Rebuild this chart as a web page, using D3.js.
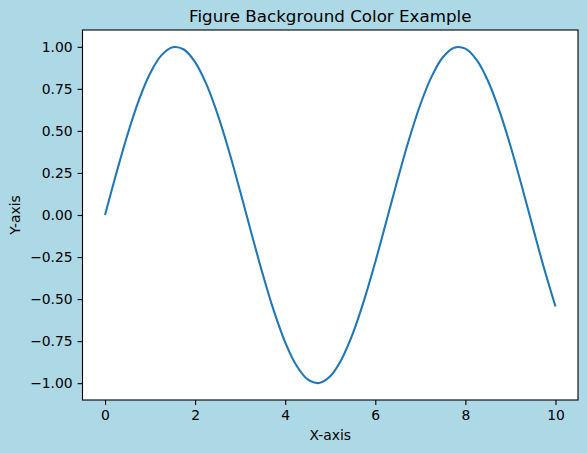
<!DOCTYPE html>
<html>
<head>
<meta charset="utf-8">
<script src="https://cdn.jsdelivr.net/npm/d3@7"></script>
<style>
	html, body { margin: 0; padding: 0; background: #add8e6; }
	svg { display: block; font-family: "DejaVu Sans", sans-serif; }
</style>
</head>
<body>
<svg id="plot" width="587" height="453" viewBox="0 0 587 453"></svg>
<script>

// values
const x_values = [0, 0.25, 0.5, 0.75, 1, 1.25, 1.5, 1.75, 2, 2.25, 2.5, 2.75, 3, 3.25, 3.5, 3.75,
	4, 4.25, 4.5, 4.75, 5, 5.25, 5.5, 5.75, 6, 6.25, 6.5, 6.75, 7, 7.25, 7.5, 7.75,
	8, 8.25, 8.5, 8.75, 9, 9.25, 9.5, 9.75, 10];
const y_values = [0.000, 0.247, 0.479, 0.682, 0.841, 0.949, 0.997, 0.984, 0.909, 0.778, 0.598, 0.382, 0.141, -0.108, -0.351, -0.572,
	-0.757, -0.895, -0.978, -0.999, -0.959, -0.859, -0.706, -0.508, -0.279, -0.033, 0.215, 0.450, 0.657, 0.823, 0.938, 0.995,
	0.989, 0.922, 0.798, 0.624, 0.412, 0.174, -0.075, -0.320, -0.544];
const x_ticks = [0, 2, 4, 6, 8, 10];
const y_ticks = [-1.00, -0.75, -0.50, -0.25, 0.00, 0.25, 0.50, 0.75, 1.00];

const title_text = "Figure Background Color Example";
const x_label = "X-axis";
const y_label = "Y-axis";

const svg = d3.select("#plot");
const plot = { left: 82.5, top: 30, right: 578, bottom: 400 };

svg.append("rect")
	.attr("width", 587).attr("height", 453)
	.style("fill", "#add8e6");

const x = d3.scaleLinear().domain([-0.5, 10.5]).range([plot.left, plot.right]);
const y = d3.scaleLinear().domain([-1.1, 1.1]).range([plot.bottom, plot.top]);

svg.append("rect")
	.attr("x", plot.left).attr("y", plot.top)
	.attr("width", plot.right - plot.left).attr("height", plot.bottom - plot.top)
	.style("fill", "white");

const points = x_values.map((v, i) => [v, y_values[i]]);
const line = d3.line()
	.x(d => x(d[0]))
	.y(d => y(d[1]))
	.curve(d3.curveCatmullRom);

svg.append("path")
	.datum(points)
	.attr("d", line)
	.style("fill", "none")
	.style("stroke", "#1f77b4")
	.style("stroke-width", 2.08);

// axes
const x_axis = d3.axisBottom(x).tickValues(x_ticks).tickFormat(d3.format("d"))
	.tickSizeInner(4.9).tickSizeOuter(0).tickPadding(4.9);
const y_axis = d3.axisLeft(y).tickValues(y_ticks).tickFormat(d => d3.format(".2f")(d).replace("-", "\u2212"))
	.tickSizeInner(4.9).tickSizeOuter(0).tickPadding(4.9);

const gx = svg.append("g").attr("transform", "translate(0," + plot.bottom + ")").call(x_axis);
const gy = svg.append("g").attr("transform", "translate(" + plot.left + ",0)").call(y_axis);

[gx, gy].forEach(g => {
	g.select(".domain").remove();
	g.selectAll("line").style("stroke", "black").style("stroke-width", 1.1);
	g.selectAll("text").style("font-size", "13.9px").style("fill", "black")
		.style("font-family", "'DejaVu Sans', sans-serif");
});

// frame
svg.append("rect")
	.attr("x", plot.left).attr("y", plot.top)
	.attr("width", plot.right - plot.left).attr("height", plot.bottom - plot.top)
	.style("fill", "none").style("stroke", "black").style("stroke-width", 1.1);

svg.append("text")
	.attr("x", (plot.left + plot.right) / 2).attr("y", 22)
	.attr("text-anchor", "middle")
	.style("font-size", "16.7px")
	.text(title_text);

svg.append("text")
	.attr("x", (plot.left + plot.right) / 2).attr("y", 440)
	.attr("text-anchor", "middle")
	.style("font-size", "13.9px")
	.text(x_label);

svg.append("text")
	.attr("transform", "translate(20," + (plot.top + plot.bottom) / 2 + ") rotate(-90)")
	.attr("text-anchor", "middle")
	.style("font-size", "13.9px")
	.text(y_label);

</script>
</body>
</html>
